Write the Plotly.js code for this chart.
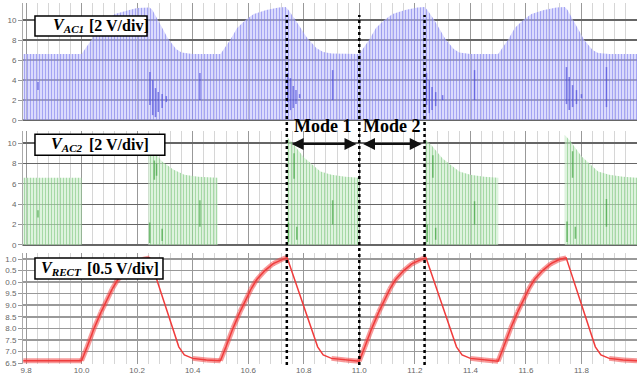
<!DOCTYPE html>
<html><head><meta charset="utf-8">
<script src="https://cdn.plot.ly/plotly-3.0.1.min.js"></script>
<style>html,body{margin:0;padding:0;background:#fff}#chart{width:641px;height:378px}</style>
</head><body><div id="chart"></div>
<script>
// ---- data ----
const xTickVals = [9.8,10.0,10.2,10.4,10.6,10.8,11.0,11.2,11.4,11.6,11.8,12.0];
const xTickText = ['9.8','10.0','10.2','10.4','10.6','10.8','11.0','11.2','11.4','11.6','11.8','12'];
const acTickVals = [0,2,4,6,8,10];
const acTickText = ['0','2','4','6','8','10'];
const rectTickVals = [6.5,7.0,7.5,8.0,8.5,9.0,9.5,10.0,10.5,11.0];
const rectTickText = ['6.5','7.0','7.5','8.0','8.5','9.0','9.5','0.0','0.5','1.0'];

// VAC1 envelope
const vac1T = [9.79,10.0,10.035,10.06,10.09,10.12,10.165,10.2,10.245,10.255,10.275,10.31,10.34,10.36,10.40,10.5,
  10.535,10.56,10.59,10.62,10.665,10.71,10.735,10.745,10.77,10.81,10.845,10.87,10.90,11.0,
  11.035,11.06,11.09,11.12,11.165,11.21,11.235,11.245,11.27,11.31,11.34,11.36,11.40,11.5,
  11.535,11.56,11.59,11.62,11.665,11.71,11.74,11.75,11.77,11.81,11.84,11.86,11.90,12.0];
const vac1V = [6.6,6.6,8.0,9.2,10.0,10.6,10.95,11.2,11.25,11.0,10.0,8.2,7.1,6.75,6.6,6.6,
  8.0,9.2,10.0,10.6,11.0,11.25,11.3,11.0,10.0,8.3,7.2,6.8,6.65,6.6,
  8.0,9.2,10.0,10.6,11.0,11.25,11.3,11.0,10.0,8.1,7.1,6.75,6.6,6.6,
  8.0,9.2,10.0,10.6,11.0,11.25,11.3,11.0,10.0,8.0,7.0,6.7,6.6,6.6];
// VAC1 dark transient streaks: time, low, high
const vac1SpikeT  = [9.843,10.246,10.256,10.266,10.276,10.290,10.305,10.426,10.742,10.752,10.762,10.772,10.785,10.904,11.242,11.252,11.262,11.275,11.300,11.415,11.746,11.756,11.768,11.782,11.800,11.890];
const vac1SpikeLo = [3.0,1.5,0.5,0.3,0.8,1.2,1.8,2.0,1.8,1.0,1.2,1.6,2.2,2.0,1.5,0.7,1.0,1.4,2.0,2.0,1.6,1.0,1.3,1.6,2.2,1.3];
const vac1SpikeHi = [3.8,4.8,4.0,3.2,2.8,2.6,2.4,4.7,4.7,4.2,3.4,3.0,2.6,5.0,4.7,4.0,3.3,2.8,2.5,5.0,5.3,4.3,3.5,3.0,2.6,5.3];

// VAC2 envelope
const vac2T = [9.79,10.0,10.0,10.24,10.24,10.265,10.29,10.33,10.37,10.42,10.49,10.49,
  10.74,10.74,10.76,10.80,10.86,10.90,10.95,11.0,11.0,
  11.24,11.24,11.26,11.30,11.36,11.40,11.45,11.5,11.5,
  11.74,11.74,11.76,11.80,11.86,11.90,11.95,12.0];
const vac2V = [6.6,6.6,0,0,9.1,9.0,8.2,7.4,6.9,6.7,6.6,0,
  0,10.6,10.0,8.6,7.2,6.9,6.7,6.6,0,
  0,10.3,9.8,8.5,7.2,6.9,6.7,6.6,0,
  0,10.8,10.2,8.7,7.2,6.9,6.7,6.6];
// VAC2 dark streaks
const vac2SpikeT  = [9.843,10.245,10.262,10.270,10.290,10.426,10.745,10.765,10.775,10.904,11.245,11.265,11.275,11.415,11.748,11.768,11.778,11.89];
const vac2SpikeLo = [2.7,0.2,6.4,6.8,0.4,1.8,0.3,6.5,0.5,2.0,0.3,6.6,0.5,2.0,0.3,6.6,0.6,1.8];
const vac2SpikeHi = [3.4,2.2,8.3,8.0,1.6,4.4,2.2,9.0,1.8,4.4,2.0,8.8,1.7,4.3,2.3,9.2,1.8,4.5];

// VRECT
const rectT = [9.79,10.0,10.02,10.045,10.07,10.09,10.11,10.13,10.16,10.19,10.22,10.245,10.35,10.37,10.40,10.45,10.5,
  10.52,10.545,10.57,10.59,10.61,10.63,10.66,10.69,10.72,10.74,10.85,10.87,10.90,10.95,11.0,
  11.02,11.045,11.07,11.09,11.11,11.13,11.16,11.19,11.22,11.24,11.35,11.37,11.40,11.45,11.5,
  11.52,11.545,11.57,11.59,11.61,11.63,11.66,11.69,11.72,11.745,11.85,11.87,11.90,11.95,12.0];
const rectV = [6.6,6.6,7.2,8.0,8.7,9.2,9.7,10.1,10.5,10.8,10.98,11.05,7.2,6.85,6.7,6.63,6.6,
  7.2,8.0,8.7,9.2,9.7,10.1,10.5,10.8,10.98,11.07,7.2,6.85,6.7,6.63,6.58,
  7.2,8.0,8.7,9.2,9.7,10.1,10.5,10.8,10.98,11.07,7.2,6.85,6.7,6.63,6.58,
  7.2,8.0,8.7,9.2,9.7,10.1,10.5,10.8,10.98,11.05,7.2,6.85,6.7,6.63,6.6];

// mode boundaries
const modeT = [10.739, 11.0, 11.235];

// panel labels
const labelSym = ['<i>V</i><sub><i>AC1</i></sub>','<i>V</i><sub><i>AC2</i></sub>','<i>V</i><sub><i>RECT</i></sub>'];
const labelDiv = ['[2 V/div]','[2 V/div]','[0.5 V/div]'];

// ---- build ----
function segs(t, lo, hi){ const x=[],y=[]; for(let i=0;i<t.length;i++){x.push(t[i],t[i],null);y.push(lo[i],hi[i],null);} return {x,y}; }
const s1 = segs(vac1SpikeT, vac1SpikeLo, vac1SpikeHi);
const s2 = segs(vac2SpikeT, vac2SpikeLo, vac2SpikeHi);
const rx=[], ry=[];
for (let i=0;i<rectT.length-1;i++){
  if (rectV[i+1] >= rectV[i]-0.1){ rx.push(rectT[i],rectT[i+1],null); ry.push(rectV[i],rectV[i+1],null); }
}
const traces = [
  {x:vac1T,y:vac1V,xaxis:'x',yaxis:'y',type:'scatter',mode:'lines',line:{width:0,color:'rgba(120,120,240,0.6)'},
   fill:'tozeroy',fillcolor:'rgba(185,185,250,0.65)',
   fillpattern:{shape:'|',size:3,solidity:0.35,fgcolor:'rgba(120,120,235,0.55)',bgcolor:'rgba(195,195,252,0.6)'},hoverinfo:'skip'},
  {x:s1.x,y:s1.y,xaxis:'x',yaxis:'y',type:'scatter',mode:'lines',line:{width:1.5,color:'rgba(70,70,215,0.65)'},hoverinfo:'skip'},
  {x:vac2T,y:vac2V,xaxis:'x2',yaxis:'y2',type:'scatter',mode:'lines',line:{width:0,color:'rgba(120,200,120,0.6)'},
   fill:'tozeroy',fillcolor:'rgba(190,230,190,0.65)',
   fillpattern:{shape:'|',size:3,solidity:0.35,fgcolor:'rgba(120,195,120,0.55)',bgcolor:'rgba(200,235,200,0.6)'},hoverinfo:'skip'},
  {x:s2.x,y:s2.y,xaxis:'x2',yaxis:'y2',type:'scatter',mode:'lines',line:{width:1.5,color:'rgba(60,160,60,0.65)'},hoverinfo:'skip'},
  {x:rx,y:ry,xaxis:'x3',yaxis:'y3',type:'scatter',mode:'lines',line:{width:5,color:'rgba(240,70,70,0.55)'},hoverinfo:'skip'},
  {x:rectT,y:rectV,xaxis:'x3',yaxis:'y3',type:'scatter',mode:'lines',line:{width:1.5,color:'rgb(240,60,60)'},hoverinfo:'skip'}
];
const tickFont = {family:'Liberation Sans Narrow, Liberation Sans, sans-serif',size:8,color:'#666'};
const boxFont = {family:'Liberation Serif, serif',size:16,color:'#000',weight:'bold'};
const xBase = {range:[9.789,12.0],tickmode:'array',tickvals:xTickVals,ticktext:xTickText,showgrid:true,gridcolor:'#999',gridwidth:1,
  minor:{tickmode:'linear',tick0:9.8,dtick:0.04,showgrid:true,gridcolor:'#d6d6d6',gridwidth:1},zeroline:false,showline:false,tickfont:tickFont,ticks:''};
const yBase = {showgrid:true,gridcolor:'#666',gridwidth:1.2,zeroline:false,showline:true,linecolor:'#aaa',ticks:'outside',ticklen:4,tickcolor:'#999',tickfont:tickFont,tickmode:'array'};

// label boxes (paper coords)
const boxes = [
  {x0:0.0195,x1:0.202,y0:0.906,y1:0.961,yc:0.934,xs:0.0456,xd:0.1042},
  {x0:0.0195,x1:0.231,y0:0.577,y1:0.635,yc:0.606,xs:0.0423,xd:0.1042},
  {x0:0.0195,x1:0.228,y0:0.235,y1:0.293,yc:0.264,xs:0.026,xd:0.101}
];
const shapes = modeT.map(t=>({type:'line',xref:'x3',yref:'paper',x0:t,x1:t,y0:-0.003,y1:0.964,line:{color:'#000',width:2.5,dash:'3px,3px'}}));
boxes.forEach(b=>shapes.push({type:'rect',xref:'paper',yref:'paper',x0:b.x0,x1:b.x1,y0:b.y0,y1:b.y1,fillcolor:'#fff',line:{color:'#000',width:1.5},layer:'above'}));
const annotations = [];
boxes.forEach((b,i)=>{
  annotations.push({xref:'paper',yref:'paper',x:b.xs,y:b.yc,xanchor:'left',yanchor:'middle',showarrow:false,text:labelSym[i],font:boxFont});
  annotations.push({xref:'paper',yref:'paper',x:b.xd,y:b.yc,xanchor:'left',yanchor:'middle',showarrow:false,text:'<b>'+labelDiv[i]+'</b>',font:boxFont});
});
annotations.push(
  {xref:'x',yref:'paper',x:(modeT[0]+modeT[1])/2,y:0.657,xanchor:'center',yanchor:'middle',showarrow:false,
   text:'Mode 1',font:{family:'Liberation Serif, serif',size:18,color:'#000',weight:'bold'}},
  {xref:'x',yref:'paper',x:(modeT[1]+modeT[2])/2,y:0.657,xanchor:'center',yanchor:'middle',showarrow:false,
   text:'Mode 2',font:{family:'Liberation Serif, serif',size:18,color:'#000',weight:'bold'}},
  {xref:'x2',yref:'y2',x:modeT[1]-0.01,y:9.9,axref:'x2',ayref:'y2',ax:modeT[0]+0.012,ay:9.9,text:'',showarrow:true,
   arrowhead:2,arrowside:'end+start',arrowsize:1.2,arrowwidth:2,arrowcolor:'#111',standoff:0,startstandoff:0},
  {xref:'x2',yref:'y2',x:modeT[2]-0.01,y:9.9,axref:'x2',ayref:'y2',ax:modeT[1]+0.008,ay:9.9,text:'',showarrow:true,
   arrowhead:2,arrowside:'end+start',arrowsize:1.2,arrowwidth:2,arrowcolor:'#111',standoff:0,startstandoff:0}
);
const layout = {
  width:641,height:378,margin:{l:23,r:4,t:2,b:14},paper_bgcolor:'#fff',plot_bgcolor:'#fff',showlegend:false,
  xaxis:Object.assign({},xBase,{domain:[0,1],anchor:'y',showticklabels:false}),
  xaxis2:Object.assign({},xBase,{domain:[0,1],anchor:'y2',showticklabels:false,matches:'x'}),
  xaxis3:Object.assign({},xBase,{domain:[0,1],anchor:'y3',showticklabels:true}),
  yaxis:Object.assign({},yBase,{domain:[0.671,0.997],range:[-0.1,11.7],tickvals:acTickVals,ticktext:acTickText}),
  yaxis2:Object.assign({},yBase,{domain:[0.326,0.644],range:[-0.1,11.2],tickvals:acTickVals,ticktext:acTickText}),
  yaxis3:Object.assign({},yBase,{domain:[0,0.3066],range:[6.457,11.26],tickvals:rectTickVals,ticktext:rectTickText,gridcolor:'#999',gridwidth:1.6}),
  shapes:shapes, annotations:annotations
};
Plotly.newPlot('chart',traces,layout,{displayModeBar:false,staticPlot:true});
</script></body></html>
